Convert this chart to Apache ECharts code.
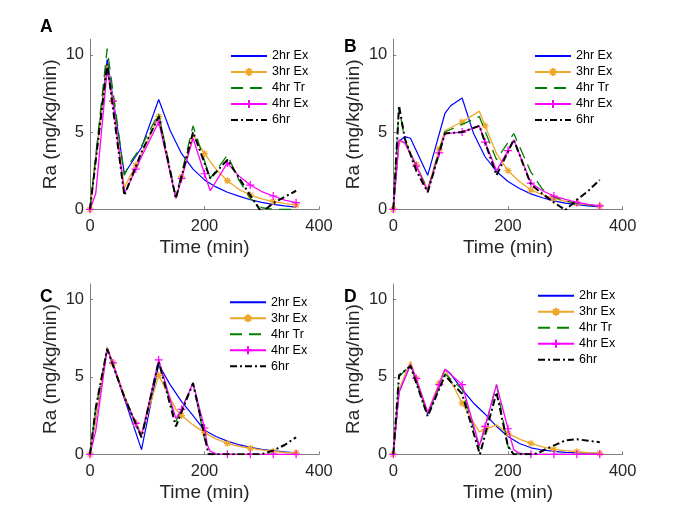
<!DOCTYPE html>
<html><head><meta charset="utf-8">
<script src="https://cdn.jsdelivr.net/npm/echarts@6/dist/echarts.min.js"></script>
<style>html,body{margin:0;padding:0;background:#fff}#c{width:691px;height:518px}</style>
</head><body><div id="c"></div>
<script>
// ---------- DATA ----------
const seriesNames = ['2hr Ex', '3hr Ex', '4hr Tr', '4hr Ex', '6hr'];
const markerTimes = [0, 40, 80, 120, 160, 200, 240, 280, 320, 360];
const xTickValues = [0, 200, 400];
const yTickValues = [0, 5, 10];
const panelLetters = ['A', 'B', 'C', 'D'];

// Panel A  [time (min), Ra (mg/kg/min)]
const A_ex2 = [[0,0],[30,9.7],[60,2.3],[90,4.0],[120,7.1],[140,5.1],[160,3.6],[180,2.6],[200,1.9],[220,1.45],[240,1.1],[260,0.85],[280,0.62],[300,0.45],[320,0.32],[340,0.22],[360,0.14]];
const A_ex3 = [[0,0],[30,9.4],[40,7.0],[60,1.4],[80,2.85],[90,3.6],[120,6.0],[150,0.7],[160,2.1],[180,4.8],[200,3.6],[220,2.6],[240,1.85],[260,1.3],[280,0.92],[300,0.68],[320,0.5],[340,0.38],[360,0.28]];
const A_tr4 = [[0,0],[30,10.4],[60,2.2],[70,3.0],[90,4.1],[120,6.2],[150,0.8],[180,5.4],[210,2.0],[240,3.5],[260,1.9],[280,0.7],[300,0.1],[320,0],[340,0],[360,0]];
const A_ex4 = [[0,0],[10,1.0],[30,9.0],[40,7.0],[60,1.0],[80,2.6],[90,3.4],[120,5.65],[150,0.7],[160,2.0],[180,4.6],[200,2.3],[210,1.2],[240,3.0],[260,2.15],[280,1.57],[300,1.15],[320,0.86],[340,0.6],[360,0.43]];
const A_six = [[0,0],[30,9.4],[60,0.9],[90,3.7],[120,6.0],[150,0.7],[180,5.0],[210,2.0],[240,3.2],[280,0.9],[300,-0.2],[320,0.4],[340,0.8],[360,1.2]];

// Panel B
const B_ex2 = [[0,0],[10,4.4],[20,4.7],[30,4.6],[60,2.2],[90,6.2],[100,6.7],[120,7.2],[140,4.9],[160,3.4],[180,2.45],[200,1.8],[220,1.35],[240,1.0],[260,0.75],[280,0.55],[300,0.4],[320,0.3],[340,0.22],[360,0.16]];
const B_ex3 = [[0,0],[10,4.4],[20,4.3],[40,2.9],[60,1.3],[80,3.9],[90,5.1],[120,5.65],[150,6.35],[160,5.4],[180,3.6],[200,2.5],[220,1.8],[240,1.25],[260,0.95],[280,0.7],[300,0.52],[320,0.39],[340,0.29],[360,0.21]];
const B_tr4 = [[0,0],[10,6.6],[20,4.5],[40,2.8],[60,1.3],[90,5.0],[120,5.5],[150,6.0],[180,3.2],[210,4.9],[240,2.4],[260,1.3],[280,0.8],[300,0.55],[320,0.38],[340,0.28],[360,0.2]];
const B_ex4 = [[0,0],[10,4.5],[20,4.3],[40,2.8],[60,1.15],[80,3.65],[90,4.9],[120,5.0],[150,5.4],[160,4.35],[180,2.5],[200,3.8],[210,4.5],[240,1.7],[260,1.2],[280,0.86],[300,0.65],[320,0.45],[340,0.32],[360,0.22]];
const B_six = [[0,0],[10,6.7],[20,4.6],[40,2.5],[60,1.1],[90,4.9],[120,5.0],[150,5.4],[180,2.2],[210,4.5],[240,1.6],[260,1.0],[280,0.45],[300,-0.05],[320,0.6],[340,1.2],[360,1.9]];

// Panel C
const C_ex2 = [[0,0],[30,6.9],[60,3.6],[90,0.3],[120,5.8],[140,4.5],[160,3.4],[180,2.5],[200,1.55],[220,1.15],[240,0.85],[260,0.62],[280,0.45],[300,0.32],[320,0.23],[340,0.16],[360,0.1]];
const C_ex3 = [[0,0],[30,6.9],[40,5.9],[60,3.8],[80,2.0],[90,1.3],[120,5.1],[150,2.9],[160,2.5],[180,1.9],[200,1.4],[220,1.0],[240,0.71],[260,0.52],[280,0.39],[300,0.28],[320,0.18],[340,0.12],[360,0.09]];
const C_tr4 = [[0,0],[10,3.0],[30,6.8],[60,3.7],[90,1.1],[120,6.0],[150,2.1],[180,4.6],[200,1.0],[210,0],[240,0],[300,0],[360,0]];
const C_ex4 = [[0,0],[10,1.5],[30,6.8],[40,5.9],[60,3.6],[80,2.0],[90,1.2],[120,6.1],[150,2.3],[160,2.9],[180,4.6],[200,1.7],[205,0.6],[210,0.2],[220,0.03],[240,0],[280,0],[320,0],[360,0]];
const C_six = [[0,0],[10,3.0],[30,6.8],[60,3.7],[90,1.1],[120,6.0],[150,1.8],[180,4.6],[207,0],[240,0],[300,0],[320,0.25],[340,0.6],[360,1.1]];

// Panel D
const D_ex2 = [[0,0],[10,4.0],[30,5.8],[60,2.6],[90,5.5],[100,5.2],[120,4.2],[140,3.3],[160,2.6],[180,1.8],[200,1.15],[220,0.7],[240,0.42],[260,0.28],[280,0.19],[300,0.13],[320,0.09],[340,0.07],[360,0.05]];
const D_ex3 = [[0,0],[10,4.2],[30,6.0],[40,4.9],[60,2.7],[80,4.6],[90,5.5],[120,3.3],[150,1.45],[160,1.6],[180,1.9],[200,1.35],[220,0.98],[240,0.71],[260,0.48],[280,0.32],[300,0.24],[320,0.17],[340,0.1],[360,0.06]];
const D_tr4 = [[0,0],[10,5.0],[30,5.8],[60,2.5],[90,5.2],[120,4.2],[150,0.4],[180,4.5],[200,0.5],[210,0.1],[240,0],[300,0],[360,0]];
const D_ex4 = [[0,0],[10,4.0],[30,5.8],[40,4.9],[60,2.7],[80,4.5],[90,5.5],[120,4.5],[150,0.55],[160,1.8],[180,4.5],[200,1.65],[210,0.3],[220,0.05],[240,0],[280,0],[320,0],[360,0]];
const D_six = [[0,0],[10,5.1],[30,5.7],[60,2.45],[90,5.1],[120,3.9],[151,0],[180,4.0],[200,0.5],[210,0],[240,0],[250,0.05],[270,0.4],[300,0.9],[320,0.97],[340,0.88],[360,0.78]];

const panelData = [
  [A_ex2, A_ex3, A_tr4, A_ex4, A_six],
  [B_ex2, B_ex3, B_tr4, B_ex4, B_six],
  [C_ex2, C_ex3, C_tr4, C_ex4, C_six],
  [D_ex2, D_ex3, D_tr4, D_ex4, D_six]
];

// ---------- STYLE / LAYOUT ----------
const FONT = '"Liberation Sans", Arial, Helvetica, sans-serif';
const plusPath = 'path://M0,-4L0,4M-4,0L4,0';
const starPath = 'path://M0,-3.5L0,3.5M-3.5,0L3.5,0M-2.5,-2.5L2.5,2.5M-2.5,2.5L2.5,-2.5';
const styles = [
  {color:'#0000FF', width:1.2, type:'solid', symbol:'none'},
  {color:'#EDA82A', width:1.3, type:'solid', symbol:starPath, size:7},
  {color:'#008000', width:1.3, type:[12,7], symbol:'none'},
  {color:'#FF00FF', width:1.3, type:'solid', symbol:plusPath, size:8},
  {color:'#000000', width:2, type:[7,3,2,3], symbol:'none'}
];
const grids = [
  {left:90, top:39.3, width:229, height:170},
  {left:393.3, top:39.3, width:229.4, height:170},
  {left:90, top:284, width:229, height:170.3},
  {left:393.3, top:284, width:229.4, height:170.3}
];
const legendPos = [
  {left:230, top:49.5}, {left:534, top:49.5}, {left:229, top:295.8}, {left:537, top:289.2}
];
const letterPos = [[40,27],[344,47],[40,297],[344,297]];

const axisColor = '#808080';
const textColor = '#262626';

const legendData = seriesNames.map((n, i) =>
  styles[i].symbol === 'none' ? {name:n, itemStyle:{opacity:0}} : {name:n});

const option = {
  animation:false,
  backgroundColor:'#fff',
  grid: grids,
  xAxis: grids.map((g,i)=>({
    type:'value', gridIndex:i, min:0, max:400, interval:200,
    name:'Time (min)', nameLocation:'middle', nameGap:29,
    nameTextStyle:{fontSize:19, color:textColor, fontFamily:FONT},
    axisLine:{show:true, lineStyle:{color:axisColor, width:1}},
    axisTick:{show:true, inside:true, length:3, lineStyle:{color:axisColor}},
    axisLabel:{fontSize:16.5, color:textColor, fontFamily:FONT, margin:9, customValues:xTickValues},
    splitLine:{show:false}
  })),
  yAxis: grids.map((g,i)=>({
    type:'value', gridIndex:i, min:0, max:11,
    name:'Ra (mg/kg/min)', nameLocation:'middle', nameGap:30,
    nameTextStyle:{fontSize:19, color:textColor, fontFamily:FONT},
    axisLine:{show:true, onZero:false, lineStyle:{color:axisColor, width:1}},
    axisTick:{show:true, inside:true, length:3, lineStyle:{color:axisColor}, customValues:yTickValues},
    axisLabel:{fontSize:16.5, color:textColor, fontFamily:FONT, margin:6, customValues:yTickValues},
    splitLine:{show:false}
  })),
  legend: legendPos.map(p=>({
    left:p.left, top:p.top, orient:'vertical', padding:0,
    itemWidth:36, itemHeight:10, itemGap:3, selectedMode:false,
    data: legendData,
    textStyle:{fontSize:12.5, color:'#000', fontFamily:FONT}
  })),
  graphic: panelLetters.map((t,i)=>({
    type:'text', x:letterPos[i][0], y:letterPos[i][1],
    style:{text:t, font:'bold 17.5px ' + FONT, fill:'#000', verticalAlign:'middle', align:'left'}
  })),
  series: []
};

panelData.forEach((sets, pi) => {
  sets.forEach((pts, si) => {
    const st = styles[si];
    const marked = st.symbol !== 'none';
    option.series.push({
      type:'line', name:seriesNames[si], xAxisIndex:pi, yAxisIndex:pi,
      data: pts.map(p => (marked && markerTimes.includes(p[0])) ? {value:p} : {value:p, symbol:'none'}),
      symbol: st.symbol, symbolSize: st.size || 0, showSymbol: marked,
      lineStyle:{color:st.color, width:st.width, type:st.type},
      itemStyle:{color:st.color, borderColor:st.color, borderWidth:1.2},
      clip:true, z: 2 + si, silent:true
    });
  });
});

const chart = echarts.init(document.getElementById('c'), null, {renderer:'canvas'});
chart.setOption(option);
</script>
</body></html>
